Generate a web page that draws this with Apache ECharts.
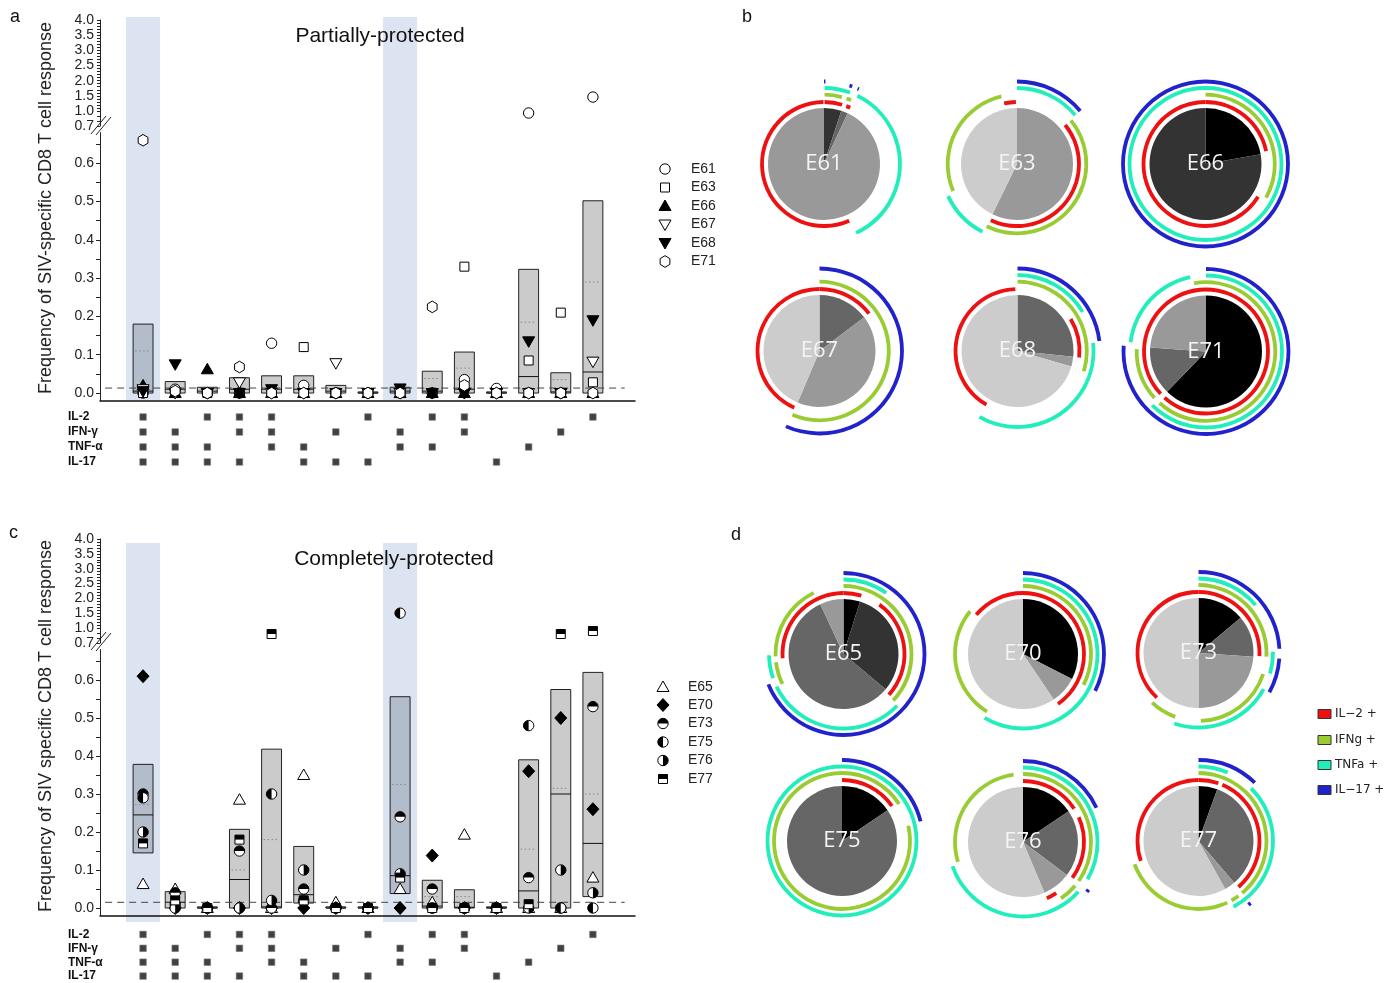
<!DOCTYPE html>
<html>
<head>
<meta charset="utf-8">
<script src="https://cdn.jsdelivr.net/npm/echarts@6/dist/echarts.min.js"></script>
<style>html,body{margin:0;padding:0;background:#fff}#c{width:1397px;height:983px}</style>
</head>
<body>
<div id="c"></div>
<script>
// ---------------- DATA ----------------
const cats = [1,2,3,4,5,6,7,8,9,10,11,12,13,14,15];
const highlightCats = [1, 9];
const cytokineNames = ['IL-2','IFN-γ','TNF-α','IL-17'];
const matIL2  = [1,0,1,1,1,0,0,1,0,1,1,0,0,0,1];
const matIFNg = [1,1,0,1,1,0,1,0,1,0,1,0,0,1,0];
const matTNFa = [1,1,1,0,1,1,0,0,1,1,0,0,1,0,0];
const matIL17 = [1,1,1,1,0,1,1,1,0,0,0,1,0,0,0];

// panel a boxes
const boxLowA  = [0,0,0,0,0,0,0,0,0,0,0,0,0,0,0];
const boxHighA = [0.18,0.03,0.015,0.04,0.045,0.045,0.02,0.003,0.015,0.057,0.107,0.003,0.323,0.053,0.502];
const boxMedA  = [0.005,0.01,0.005,0.01,0.01,0.01,0.005,0,0.005,0.005,0.01,0,0.043,0.003,0.055];
const boxMeanA = [0.11,null,null,null,null,null,null,null,null,0.038,0.065,null,0.185,0.035,0.29];
// panel c boxes
const boxLowC  = [0.145,0,0,0,0,0.013,0,0,0.038,0,0,0,0,0,0.03];
const boxHighC = [0.378,0.043,0.003,0.207,0.418,0.162,0.003,0.003,0.556,0.073,0.048,0.003,0.39,0.575,0.62];
const boxMedC  = [0.245,0.015,0,0.075,0.003,0.035,0,0,0.085,0.005,0.002,0,0.045,0.30,0.17];
const boxMeanC = [0.272,null,null,0.1,0.18,null,null,null,0.325,0.03,0.03,null,0.155,0.315,0.30];

const thresholdA = 0.013;
const thresholdC = 0.015;

// panel a animals
const namesA = ['E61','E63','E66','E67','E68','E71'];
const ptsE61 = [0,0.01,0,0,0.13,0.02,0,0,0,0,0.035,0.012,0.96,0,1.46];
const ptsE63 = [0,0,0,0,0,0.12,0,0,0,0,0.33,0,0.085,0.21,0.028];
const ptsE66 = [0.02,0,0.062,0,0,0,0,0,0,0,0,0,0,0,0];
const ptsE67 = [0.01,0,0,0.028,0,0,0.078,0,0,0,0,0,0,0,0.082];
const ptsE68 = [0.005,0.075,0,0,0.01,0,0,0,0.012,0,0,0,0.135,0,0.19];
const ptsE71 = [0.66,0.005,0,0.068,0,0,0,0,0,0.225,0.02,0,0,0,0];
// panel c animals
const namesC = ['E65','E70','E73','E75','E76','E77'];
const ptsE65 = [0.063,0.05,0,0.285,0,0.35,0.015,0,0.05,0.015,0.193,0,0,0,0.08];
const ptsE70 = [0.61,0,0,0,0,0,0,0,0,0.138,0,0,0.36,0.5,0.26];
const ptsE73 = [0.3,0.04,0,0.15,0,0.05,0,0,0.24,0.05,0,0,0.08,0,0.53];
const ptsE75 = [0.29,0.01,0,0,0.30,0.02,0,0,1.5,0,0,0,0.48,0,0];
const ptsE76 = [0.2,0,0,0,0.02,0.1,0,0,0.09,0,0,0,0,0.1,0.04];
const ptsE77 = [0.17,0.02,0,0.18,0.88,0.02,0,0,0.08,0,0,0,0.01,0.88,0.94];

// axis labels
const upperLabels = [1.0,1.5,2.0,2.5,3.0,3.5,4.0];
const midLabels = [0.7];
const lowerLabels = [0,0.1,0.2,0.3,0.4,0.5,0.6];

// pies (angles in degrees, clockwise from 12 o'clock)
const pieNames = ['E61','E63','E66','E67','E68','E71','E65','E70','E73','E75','E76','E77'];
const pieSliceDeg = [
  [18,7,335],[206,154],[80,280],[53,150,157],[96,10,254],[224,50,86],
  [17.5,112.5,205,25],[117,29,214],[50,44,86,180],[56,304],[56,71,30,203],[20,119.5,11.5,209]
];
const pieSliceShade = [
  ['#333','#666','#999'],['#999','#ccc'],['#000','#333'],['#666','#999','#ccc'],['#666','#999','#ccc'],['#000','#666','#999'],
  ['#000','#333','#666','#999'],['#000','#999','#ccc'],['#000','#666','#999','#ccc'],['#000','#666'],['#000','#666','#999','#ccc'],['#000','#666','#999','#ccc']
];
const arcsIL2 = [
  [[0.5,17],[21,25],[156,359.5]], [[51,205],[348,359]], [[0,78],[122,360]], [[0,53],[204,360]], [[59,96],[210,358]], [[0,222],[227,360]],
  [[0,17],[36,132],[266,360]], [[0,145],[310,360]], [[0,93],[223,360]], [[0,55]], [[0,57],[66,126],[147,157]], [[0,19],[23,139],[251,360]]
];
const arcsIFNg = [
  [[0.5,15],[19,23]], [[51,206],[247,347]], [[0,119]], [[0,203]], [[0,107]], [[0,222],[228,272],[350,360]],
  [[0,133],[244,263],[268,334]], [[0,117],[212,309]], [[0,93],[108,178],[200,223]], [[0,57],[77,360]], [[0,125],[130,146],[253,352]], [[0,140],[144,151],[155,250]]
];
const arcsTNFa = [
  [[0.5,20],[26,155]], [[0,50],[207,245]], [[0,360]], [], [[0,59],[84,210]], [[0,225],[277,348]],
  [[0,35],[134,244],[251,269]], [[0,211]], [[0,50],[89,106],[119,199]], [[0,360]], [[0,120],[132,251]], [[0,23],[45,152]]
];
const arcsIL17 = [
  [[0,1],[18,20],[24,25]], [[0,50]], [[0,360]], [[0,204]], [[0,83]], [[0,274]],
  [[0,248]], [[0,117]], [[0,87],[94,119]], [[0,76]], [[0,65],[126,128]], [[0,44],[140,142]]
];
const ringLegend = ['IL\u22122 +','IFNg +','TNFa +','IL\u221217 +'];

// ---------------- LAYOUT / STYLE ----------------
const FONT = 'Liberation Sans, Arial, sans-serif';
const RING_COLORS = ['#ee1111','#99cc33','#22eebb','#2222cc'];
const pieCenters = [[824,164],[1017,164],[1205.5,164],[819.5,351],[1017.5,351],[1206,351.5],
                    [843.5,654],[1023,654],[1198.5,653],[842,841],[1023,842],[1198.5,841]];
const pieRadiusB = 56, pieRadiusD = 55;
const ringRadiiB = [62,69.3,76,82.5];
const ringRadiiD = [61,68,74.5,81];
const X_MIN = -0.34, X_MAX = 16.31;
// [top, height] of: band, upper (1-4), mid (0.7-1), lower (<0.7), cytokine matrix
const panels = [
  {band:[17,383], upper:[20,91], mid:[111,15], lower:[132.6,268.1], matrix:[409.5,60]},
  {band:[543,379], upper:[539,89], mid:[628,15], lower:[649.6,266], matrix:[927.5,59]}
];

function markerEls(kind, x, y) {
  const open = {fill:'#fff', stroke:'#000', lineWidth:1};
  const solid = {fill:'#000', stroke:'#000', lineWidth:1};
  switch (kind) {
    case 'circle': return [{type:'circle', shape:{cx:x,cy:y,r:5.2}, style:open}];
    case 'square': return [{type:'rect', shape:{x:x-4.5,y:y-4.5,width:9,height:9}, style:open}];
    case 'triUp': return [{type:'polygon', shape:{points:[[x,y-6],[x+6,y+4.5],[x-6,y+4.5]]}, style:solid}];
    case 'triUpOpen': return [{type:'polygon', shape:{points:[[x,y-6],[x+6,y+4.5],[x-6,y+4.5]]}, style:open}];
    case 'triDown': return [{type:'polygon', shape:{points:[[x-6,y-4.5],[x+6,y-4.5],[x,y+6]]}, style:solid}];
    case 'triDownOpen': return [{type:'polygon', shape:{points:[[x-6,y-4.5],[x+6,y-4.5],[x,y+6]]}, style:open}];
    case 'hex': {
      const pts = [];
      for (let k = 0; k < 6; k++) { const a = (-90 + 60*k) * Math.PI/180; pts.push([x + 5.6*Math.cos(a), y + 5.8*Math.sin(a)]); }
      return [{type:'polygon', shape:{points:pts}, style:open}];
    }
    case 'diamond': return [{type:'polygon', shape:{points:[[x,y-6.5],[x+6,y],[x,y+6.5],[x-6,y]]}, style:solid}];
    case 'halfTop': return [{type:'circle', shape:{cx:x,cy:y,r:5.2}, style:open},
      {type:'sector', shape:{cx:x,cy:y,r:5.2,r0:0,startAngle:Math.PI,endAngle:2*Math.PI,clockwise:true}, style:{fill:'#000'}}];
    case 'halfLeft': return [{type:'circle', shape:{cx:x,cy:y,r:5.2}, style:open},
      {type:'sector', shape:{cx:x,cy:y,r:5.2,r0:0,startAngle:Math.PI/2,endAngle:Math.PI*1.5,clockwise:true}, style:{fill:'#000'}}];
    case 'halfRight': return [{type:'circle', shape:{cx:x,cy:y,r:5.2}, style:open},
      {type:'sector', shape:{cx:x,cy:y,r:5.2,r0:0,startAngle:-Math.PI/2,endAngle:Math.PI/2,clockwise:true}, style:{fill:'#000'}}];
    case 'halfSquare': return [{type:'rect', shape:{x:x-4.5,y:y-4.5,width:9,height:9}, style:open},
      {type:'rect', shape:{x:x-4.5,y:y-4.5,width:9,height:4.5}, style:{fill:'#000'}}];
  }
  return [];
}

const kindsA = ['circle','square','triUp','triDownOpen','triDown','hex'];
const kindsC = ['triUpOpen','diamond','halfTop','halfLeft','halfRight','halfSquare'];
const ptsA = [ptsE61, ptsE63, ptsE66, ptsE67, ptsE68, ptsE71];
const ptsC = [ptsE65, ptsE70, ptsE73, ptsE75, ptsE76, ptsE77];
const matrix = [matIL2, matIFNg, matTNFa, matIL17];

const grid = [], xAxis = [], yAxis = [], series = [];
const hidden = {show:false};
const labelStyle = {fontSize:14, color:'#222', fontFamily:FONT, margin:6};
function range(a, b, step) { const out = []; for (let v = a; v <= b + 1e-9; v += step) out.push(Math.round(v*1000)/1000); return out; }

panels.forEach((p, pi) => {
  const base = pi * 5;
  const B = base, U = base + 1, M = base + 2, L = base + 3, T = base + 4;
  [p.band, p.upper, p.mid, p.lower, p.matrix].forEach(r => grid.push({left:100, width:535, top:r[0], height:r[1], containLabel:false}));
  for (let k = 0; k < 5; k++) {
    xAxis.push({gridIndex:base+k, type:'value', min:X_MIN, max:X_MAX,
      axisLine: (base+k) === L ? {show:true, onZero:false, lineStyle:{color:'#111', width:1.5}} : {show:false, onZero:false},
      axisTick:hidden, axisLabel:hidden, splitLine:hidden});
  }
  yAxis.push({gridIndex:B, type:'value', min:0, max:1, show:false});
  yAxis.push({gridIndex:U, type:'value', min:1.0, max:4.0,
    axisLine:{show:true, onZero:false, lineStyle:{color:'#222', width:1}},
    axisTick:{show:true, customValues:range(1.0, 4.0, 0.1), length:3, lineStyle:{color:'#222'}},
    axisLabel:Object.assign({show:true, customValues:upperLabels, formatter:v=>v.toFixed(1)}, labelStyle),
    splitLine:hidden});
  yAxis.push({gridIndex:M, type:'value', min:0.7, max:1.0,
    axisLine:{show:true, onZero:false, lineStyle:{color:'#222', width:1}},
    axisTick:{show:true, customValues:[0.7,0.8,0.9], length:3, lineStyle:{color:'#222'}},
    axisLabel:Object.assign({show:true, customValues:midLabels, formatter:v=>v.toFixed(1)}, labelStyle),
    splitLine:hidden});
  yAxis.push({gridIndex:L, type:'value', min:-0.02, max:0.68,
    axisLine:{show:true, onZero:false, lineStyle:{color:'#222', width:1}},
    axisTick:{show:true, customValues:range(0, 0.65, 0.05), length:4, lineStyle:{color:'#222'}},
    axisLabel:Object.assign({show:true, customValues:lowerLabels, formatter:v=>v.toFixed(1)}, labelStyle),
    splitLine:hidden});
  yAxis.push({gridIndex:T, type:'category', data:cytokineNames, inverse:true,
    axisLine:{show:false, onZero:false}, axisTick:hidden,
    axisLabel:{show:true, interval:0, align:'left', margin:32, fontSize:12, fontWeight:'bold', color:'#111', fontFamily:FONT},
    splitLine:hidden});

  // highlight bands
  series.push({type:'custom', xAxisIndex:B, yAxisIndex:B, silent:true, animation:false, z:0,
    data: highlightCats.map(c => [c]),
    renderItem: (params, api) => {
      const a = api.coord([api.value(0) - 0.53, 1]);
      const b = api.coord([api.value(0) + 0.53, 0]);
      return {type:'rect', shape:{x:a[0], y:a[1], width:b[0]-a[0], height:b[1]-a[1]}, style:{fill:'#dce4f2'}};
    }});

  // boxes
  const lo = pi ? boxLowC : boxLowA, hi = pi ? boxHighC : boxHighA, md = pi ? boxMedC : boxMedA, mn = pi ? boxMeanC : boxMeanA;
  series.push({type:'custom', xAxisIndex:L, yAxisIndex:L, silent:true, animation:false, z:2,
    data: cats.map((c, i) => [c, lo[i], hi[i], md[i], mn[i] == null ? NaN : mn[i], highlightCats.includes(c) ? 1 : 0]),
    renderItem: (params, api) => {
      const x = api.value(0);
      const a = api.coord([x - 0.31, api.value(2)]);
      const b = api.coord([x + 0.31, api.value(1)]);
      const ch = [{type:'rect', shape:{x:a[0], y:a[1], width:b[0]-a[0], height:Math.max(1, b[1]-a[1])},
        style:{fill: api.value(5) ? '#b3bccb' : '#cbcbcb', stroke:'#222', lineWidth:1}}];
      const ym = api.coord([x, api.value(3)])[1];
      ch.push({type:'line', shape:{x1:a[0], y1:ym, x2:b[0], y2:ym}, style:{stroke:'#111', lineWidth:1}});
      const mv = api.value(4);
      if (!isNaN(mv)) {
        const yv = api.coord([x, mv])[1];
        ch.push({type:'line', shape:{x1:a[0]+2, y1:yv, x2:b[0]-2, y2:yv}, style:{stroke:'#888', lineWidth:1, lineDash:[1.5,2.5]}});
      }
      return {type:'group', children:ch};
    }});

  // threshold dashed line
  const thr = pi ? thresholdC : thresholdA;
  series.push({type:'line', xAxisIndex:L, yAxisIndex:L, silent:true, animation:false, z:3,
    symbol:'none', data:[[-0.18, thr],[15.99, thr]], lineStyle:{color:'#444', width:1, type:[7,5]}});

  // points
  const pts = pi ? ptsC : ptsA, kinds = pi ? kindsC : kindsA, names = pi ? namesC : namesA;
  pts.forEach((vals, ai) => {
    const kind = kinds[ai];
    const render = (params, api) => {
      const q = api.coord([api.value(0), api.value(1)]);
      return {type:'group', children: markerEls(kind, q[0], q[1])};
    };
    const all = cats.map((c, i) => [c, vals[i]]);
    [[L, d => d[1] < 0.69], [M, d => d[1] >= 0.69 && d[1] < 1.0], [U, d => d[1] >= 1.0]].forEach(([ax, f]) => {
      series.push({type:'custom', name:names[ai], xAxisIndex:ax, yAxisIndex:ax, silent:true, animation:false, z:5,
        data: all.filter(f), renderItem: render});
    });
  });

  // cytokine matrix
  const md2 = [];
  matrix.forEach((row, ri) => row.forEach((v, ci) => { if (v) md2.push([cats[ci], cytokineNames[ri]]); }));
  series.push({type:'scatter', xAxisIndex:T, yAxisIndex:T, silent:true, animation:false,
    symbol:'rect', symbolSize:6.5, data:md2, itemStyle:{color:'#111', borderColor:'#777', borderWidth:0.8}});
});

// ---------------- PIES ----------------
function ringData(arcs, color) {
  const out = []; let pos = 0;
  arcs.slice().sort((a, b) => a[0] - b[0]).forEach(([s, e]) => {
    if (s > pos) out.push({value:s - pos, itemStyle:{color:'rgba(0,0,0,0)'}});
    out.push({value:e - s, itemStyle:{color:color}});
    pos = e;
  });
  if (pos < 360) out.push({value:360 - pos, itemStyle:{color:'rgba(0,0,0,0)'}});
  return out;
}
const arcSets = [arcsIL2, arcsIFNg, arcsTNFa, arcsIL17];
pieNames.forEach((nm, i) => {
  const c = pieCenters[i];
  const rr = i < 6 ? ringRadiiB : ringRadiiD;
  series.push({type:'pie', name:nm, center:c, radius:[0, i < 6 ? pieRadiusB : pieRadiusD], startAngle:90, clockwise:true, silent:true, animation:false,
    emphasis:{disabled:true}, labelLine:{show:false}, label:{show:false}, itemStyle:{borderWidth:0},
    data: pieSliceDeg[i].map((v, j) => ({value:v, name:nm + '_' + j, itemStyle:{color:pieSliceShade[i][j]},
      label: j === 0 ? {show:true, position:'center', formatter:'{a}', color:'#f4f4f4', fontSize:22, fontFamily:'Open Sans, sans-serif'} : {show:false}}))});
  arcSets.forEach((set, k) => {
    series.push({type:'pie', center:c, radius:[rr[k] - 1.9, rr[k] + 1.9], startAngle:90, clockwise:true, silent:true, animation:false,
      emphasis:{disabled:true}, label:{show:false}, labelLine:{show:false}, itemStyle:{borderWidth:0},
      data: ringData(set[i], RING_COLORS[k])});
  });
});

// ---------------- GRAPHIC TEXT / LEGENDS ----------------
const g = [];
const txt = (x, y, t, o) => g.push({type:'text', x:x, y:y, z:100, style:Object.assign({text:t, fill:'#111', font:'18px ' + FONT}, o || {})});
txt(10, 8, 'a'); txt(742, 8, 'b'); txt(9, 524, 'c'); txt(731, 526, 'd');
txt(380, 36, 'Partially-protected', {font:'21px ' + FONT, align:'center', verticalAlign:'middle', fill:'#111'});
txt(394, 559, 'Completely-protected', {font:'21px ' + FONT, align:'center', verticalAlign:'middle', fill:'#111'});
g.push({type:'text', x:46, y:208, z:100, rotation:Math.PI/2, style:{text:'Frequency of SIV-specific CD8 T cell response', font:'18px ' + FONT, fill:'#222', align:'center', verticalAlign:'middle'}});
g.push({type:'text', x:46, y:726, z:100, rotation:Math.PI/2, style:{text:'Frequency of SIV specific CD8 T cell response', font:'18px ' + FONT, fill:'#222', align:'center', verticalAlign:'middle'}});
// axis breaks
[125, 641].forEach(cy => {
  g.push({type:'line', z:100, shape:{x1:91, y1:cy+9, x2:106, y2:cy-9}, style:{stroke:'#222', lineWidth:1}});
  g.push({type:'line', z:100, shape:{x1:96, y1:cy+10, x2:111, y2:cy-8}, style:{stroke:'#222', lineWidth:1}});
});
// marker legends
const legAY = [169,187.5,206,224.5,243,261.5];
const legCY = [687,705,723.5,742,760.5,779];
namesA.forEach((n, i) => {
  g.push({type:'group', z:100, children:markerEls(kindsA[i], 665, legAY[i])});
  txt(691, legAY[i], n, {font:'14px ' + FONT, verticalAlign:'middle', fill:'#222'});
});
namesC.forEach((n, i) => {
  g.push({type:'group', z:100, children:markerEls(kindsC[i], 663, legCY[i])});
  txt(688, legCY[i], n, {font:'14px ' + FONT, verticalAlign:'middle', fill:'#222'});
});
// ring legend
const legDY = [714,740,765,790];
ringLegend.forEach((t, k) => {
  g.push({type:'rect', z:100, shape:{x:1318, y:legDY[k]-4.5, width:13, height:9}, style:{fill:RING_COLORS[k], stroke:'#333', lineWidth:1}});
  txt(1335, legDY[k], t, {font:'12px DejaVu Sans, sans-serif', verticalAlign:'middle', fill:'#222'});
});

const chart = echarts.init(document.getElementById('c'), null, {renderer:'canvas', width:1397, height:983});
chart.setOption({
  backgroundColor:'#fff',
  animation:false,
  grid, xAxis, yAxis, series,
  graphic:{elements:g}
});
</script>
</body>
</html>
